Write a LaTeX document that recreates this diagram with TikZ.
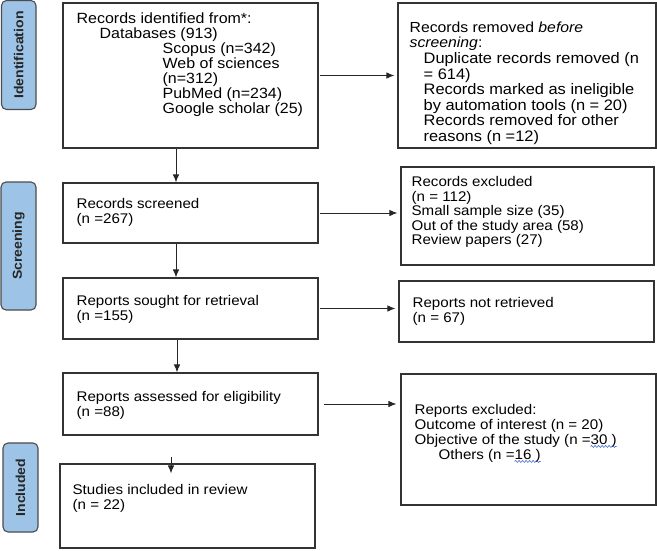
\documentclass[tikz,border=0pt]{standalone}
\usepackage{fontspec}
\setmainfont{Liberation Sans}[FakeStretch=1.08]
\usetikzlibrary{positioning, arrows.meta, decorations.pathmorphing}
\definecolor{tabblue}{RGB}{157,195,230}
\definecolor{spellblue}{RGB}{70,110,200}
\newlength\waveskipA
\newlength\waveskipB
\newlength\wavelenA
\newlength\wavelenB

\begin{document}
\settowidth\waveskipA{\fontsize{14}{15}\selectfont Objective of the study (n =}%
\settowidth\waveskipB{\fontsize{14}{15}\selectfont Others (n =}%
\settowidth\wavelenA{\fontsize{14}{15}\selectfont 30 )}%
\settowidth\wavelenB{\fontsize{14}{15}\selectfont 16 )}%
\begin{tikzpicture}[
    x=1pt, y=-1pt,
    font=\fontsize{14}{15}\selectfont,
    box/.style={draw=black!80, line width=1.1pt, inner sep=0pt},
    txt/.style={inner sep=0pt, align=left},
    stage/.style={draw=black!70, fill=tabblue, line width=1.1pt, rounded corners=5pt, rotate=90, inner sep=0pt, text=black!85, font=\bfseries\fontsize{13}{13}\selectfont},
    flow/.style={-{Latex[length=8pt, width=6.5pt]}, line width=1pt, black!85},
    spell/.style={draw=spellblue, line width=0.6pt, decorate, decoration={snake, amplitude=1pt, segment length=3.5pt}}
]
\useasboundingbox (0,0) rectangle (657,550);

% stage tabs
\node[stage, minimum width=109pt, minimum height=34.5pt] (tabid) at (18.75,55) {Identification};
\node[stage, minimum width=128pt, minimum height=35pt] (tabscr) at (18.5,246) {Screening};
\node[stage, minimum width=89pt, minimum height=35pt] (tabinc) at (20.5,487.5) {Included};

% main column
\node[box, minimum width=255pt, minimum height=145pt] (ident) at (190.5,75.5) {};
\node[box, minimum width=255pt, minimum height=60pt] (screen) at (190.5,213) {};
\node[box, minimum width=255pt, minimum height=61pt] (sought) at (190.5,308.5) {};
\node[box, minimum width=255pt, minimum height=62pt] (assess) at (190.5,404) {};
\node[box, minimum width=255pt, minimum height=84pt] (incl) at (187.5,506) {};

% side column
\node[box, minimum width=258pt, minimum height=145pt] (removed) at (527,75.5) {};
\node[box, minimum width=253pt, minimum height=98pt] (excl) at (527.5,216) {};
\node[box, minimum width=255pt, minimum height=61pt] (notret) at (526.5,311.5) {};
\node[box, minimum width=255pt, minimum height=131pt] (repexcl) at (528.5,439.5) {};

% texts
\node[txt, font=\fontsize{14.8}{15}\selectfont, below right=10pt and 14pt of ident.north west] (ident-t) {Records identified from*:\\
\hspace*{23pt}Databases (913)\\
\hspace*{86pt}Scopus (n=342)\\
\hspace*{86pt}Web of sciences\\
\hspace*{86pt}(n=312)\\
\hspace*{86pt}PubMed (n=234)\\
\hspace*{86pt}Google scholar (25)};
\node[txt, below right=16pt and 14pt of screen.north west] (screen-t) {Records screened\\(n =267)};
\node[txt, below right=18pt and 14pt of sought.north west] (sought-t) {Reports sought for retrieval\\(n =155)};
\node[txt, below right=19pt and 14pt of assess.north west] (assess-t) {Reports assessed for eligibility\\(n =88)};
\node[txt, below right=21pt and 13pt of incl.north west] (incl-t) {Studies included in review\\(n = 22)};

\node[txt, font=\fontsize{14.6}{15.6}\selectfont, below right=19pt and 12pt of removed.north west] (removed-t) {Records removed \textit{before}\\
\textit{screening}:\\
\hspace*{14pt}{\fontsize{15.2}{15.6}\selectfont Duplicate records removed (n}\\
\hspace*{14pt}{\fontsize{15.2}{15.6}\selectfont = 614)}\\
\hspace*{14pt}{\fontsize{15.2}{15.6}\selectfont Records marked as ineligible}\\
\hspace*{14pt}{\fontsize{15.2}{15.6}\selectfont by automation tools (n = 20)}\\
\hspace*{14pt}{\fontsize{15.2}{15.6}\selectfont Records removed for other}\\
\hspace*{14pt}{\fontsize{15.2}{15.6}\selectfont reasons (n =12)}};
\node[txt, font=\fontsize{14}{14.5}\selectfont, below right=10pt and 11pt of excl.north west] (excl-t) {Records excluded\\(n = 112)\\Small sample size (35)\\Out of the study area (58)\\Review papers (27)};
\node[txt, below right=17pt and 14pt of notret.north west] (notret-t) {Reports not retrieved\\(n = 67)};
\node[txt, below right=31pt and 14pt of repexcl.north west] (repexcl-t) {Reports excluded:\\
Outcome of interest (n = 20)\\
Objective of the study (n =30 )\\
\hspace*{24pt}Others (n =16 )};

% spell-check marks
\draw[spell] ([xshift=\waveskipA, yshift=-42pt]repexcl-t.north west) -- ++(\wavelenA,0);
\draw[spell] ([xshift=\waveskipB+24pt, yshift=-57pt]repexcl-t.north west) -- ++(\wavelenB,0);

% connectors
\coordinate (spine) at (176,0);
\coordinate (lastfrom) at (171,457);
\draw[flow] (ident.south -| spine) -- (screen.north -| spine);
\draw[flow] (screen.south -| spine) -- (sought.north -| spine);
\draw[flow] ([xshift=1pt]sought.south -| spine) -- ([xshift=1pt]assess.north -| spine);
\draw[flow, shorten >=-10pt] (lastfrom) -- (lastfrom |- incl.north);

\draw[flow, shorten <=1pt, shorten >=3pt] (ident.east) -- (removed.west);
\draw[flow, shorten <=1pt, shorten >=3pt] (screen.east) -- (screen.east -| excl.west);
\draw[flow, shorten <=1pt, shorten >=3pt] (sought.east) -- (sought.east -| notret.west);
\draw[flow, shorten <=5pt, shorten >=4pt] (assess.east) -- (assess.east -| repexcl.west);

\end{tikzpicture}
\end{document}
